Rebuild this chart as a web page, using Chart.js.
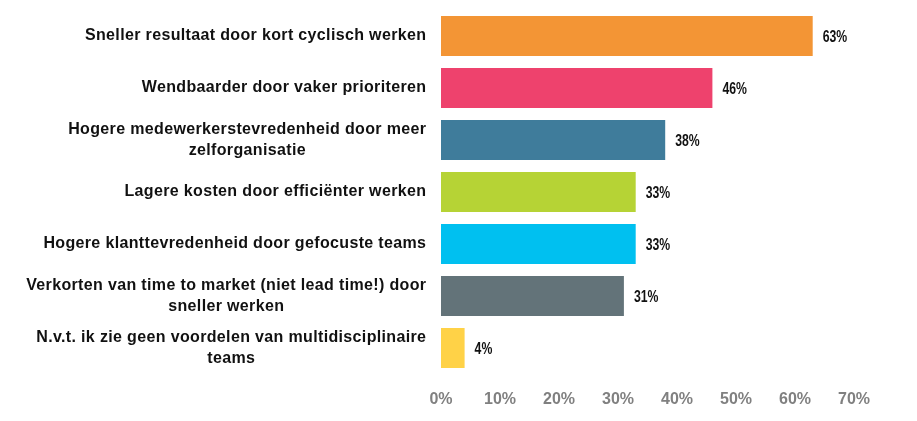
<!DOCTYPE html>
<html>
<head>
<meta charset="utf-8">
<script src="https://cdn.jsdelivr.net/npm/chart.js@4"></script>
<style>
  html, body { margin: 0; background: #fff; }
  #wrap { width: 917px; height: 421px; }
</style>
</head>
<body>
<div id="wrap"><canvas id="chart"></canvas></div>
<script>
const categories = [
  ['Sneller resultaat door kort cyclisch werken'],
  ['Wendbaarder door vaker prioriteren'],
  ['Hogere medewerkerstevredenheid door meer', 'zelforganisatie'],
  ['Lagere kosten door efficiënter werken'],
  ['Hogere klanttevredenheid door gefocuste teams'],
  ['Verkorten van time to market (niet lead time!) door', 'sneller werken'],
  ['N.v.t. ik zie geen voordelen van multidisciplinaire', 'teams']
];
const values = [63, 46, 38, 33, 33, 31, 4];
const barColors = ['#F39535', '#EE426D', '#3F7C9B', '#B6D335', '#00C0F0', '#637379', '#FFD247'];
const xMax = 70;
const xStep = 10;

const spacing = 0.35;

// labels on the left (block right-aligned, lines centred) and values at bar ends
const sideLabels = {
  id: 'sideLabels',
  afterDraw(chart) {
    const ctx = chart.ctx;
    const yScale = chart.scales.y;
    const right = chart.chartArea.left - 15;
    ctx.save();
    ctx.font = 'bold 16px "Liberation Sans"';
    ctx.letterSpacing = spacing + 'px';
    ctx.fillStyle = '#111';
    ctx.textAlign = 'left';
    ctx.textBaseline = 'middle';
    categories.forEach((lines, i) => {
      const widths = lines.map(l => ctx.measureText(l).width - spacing);
      const w = Math.max(...widths);
      const cy = yScale.getPixelForTick(i);
      lines.forEach((l, j) => {
        const x = right - w / 2 - widths[j] / 2;
        ctx.fillText(l, x, cy + (j - (lines.length - 1) / 2) * 21);
      });
    });
    ctx.restore();

    // condensed value labels: squeeze a normal font horizontally
    const meta = chart.getDatasetMeta(0);
    ctx.save();
    ctx.font = 'bold 17px "Liberation Sans"';
    ctx.fillStyle = '#111';
    ctx.textAlign = 'left';
    ctx.textBaseline = 'middle';
    meta.data.forEach((bar, i) => {
      ctx.save();
      ctx.translate(bar.x + 10, bar.y + 1);
      ctx.scale(0.72, 1);
      ctx.fillText(values[i] + '%', 0, 0);
      ctx.restore();
    });
    ctx.restore();
  }
};

new Chart(document.getElementById('chart'), {
  type: 'bar',
  data: {
    labels: categories,
    datasets: [{
      data: values,
      backgroundColor: barColors,
      borderWidth: 0,
      barPercentage: 0.77,
      categoryPercentage: 1
    }]
  },
  options: {
    indexAxis: 'y',
    responsive: true,
    maintainAspectRatio: false,
    animation: false,
    layout: { padding: { top: 10, right: 63, left: 0, bottom: 0 } },
    plugins: {
      legend: { display: false },
      tooltip: { enabled: false }
    },
    scales: {
      x: {
        min: 0,
        max: xMax,
        grid: { display: false, drawTicks: false },
        border: { display: false },
        ticks: {
          stepSize: xStep,
          padding: 16,
          color: '#808080',
          font: { family: '"Liberation Sans"', size: 16, weight: 'bold' },
          callback: v => v + '%'
        },
        afterFit(s) { s.height = 47; }
      },
      y: {
        grid: { display: false },
        border: { display: false },
        ticks: { display: false },
        afterFit(s) { s.width = 441; }
      }
    }
  },
  plugins: [sideLabels]
});
</script>
</body>
</html>
